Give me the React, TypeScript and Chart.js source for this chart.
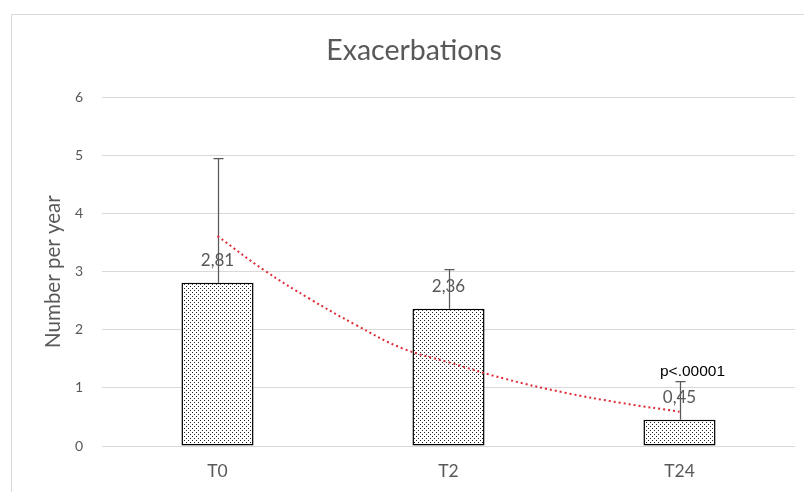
import React, { useEffect, useRef } from "react";
import { Chart, registerables } from "chart.js";

Chart.register(...registerables);

const categories = ["T0", "T2", "T24"];
const means = [2.81, 2.36, 0.45];
const meanLabels = ["2,81", "2,36", "0,45"];
const errorPlus = [2.15, 0.69, 0.66];
const pLabels = ["", "", "p<.00001"];
// exponential trendline (x in category units, 0 = T0)
const trendX = [0, 0.2, 0.4, 0.6, 0.8, 1.0, 1.25, 1.5, 1.75, 2.0];
const trendY = [3.61, 3.03, 2.53, 2.08, 1.68, 1.44, 1.15, 0.92, 0.74, 0.59];
const yMin = 0;
const yMax = 6;
const yStep = 1;

const TEXT = "#595959";
const GRID = "#d9d9d9";

function makePattern(): CanvasPattern | string {
  const c = document.createElement("canvas");
  c.width = 4;
  c.height = 4;
  const g = c.getContext("2d");
  if (!g) return "#fff";
  g.fillStyle = "#ffffff";
  g.fillRect(0, 0, 4, 4);
  g.fillStyle = "#262626";
  g.fillRect(0, 0, 1, 1);
  g.fillRect(2, 2, 1, 1);
  const p = g.createPattern(c, "repeat");
  return p || "#fff";
}

const framePlugin = {
  id: "frame",
  beforeDraw(chart: any) {
    const ctx = chart.ctx;
    ctx.save();
    ctx.fillStyle = "#ffffff";
    ctx.fillRect(0, 0, chart.width, chart.height);
    ctx.strokeStyle = GRID;
    ctx.lineWidth = 1;
    ctx.beginPath();
    ctx.moveTo(11.5, chart.height);
    ctx.lineTo(11.5, 14.5);
    ctx.lineTo(chart.width, 14.5);
    ctx.stroke();
    ctx.restore();
  },
};

const errorBarPlugin = {
  id: "errbars",
  afterDatasetDraw(chart: any, args: any) {
    if (args.index !== 0) return;
    const ctx = chart.ctx;
    const y = chart.scales.y;
    const meta = chart.getDatasetMeta(0);
    ctx.save();
    ctx.strokeStyle = TEXT;
    ctx.lineWidth = 1.25;
    meta.data.forEach((el: any, i: number) => {
      const x = Math.round(el.x) + 0.5;
      const y0 = y.getPixelForValue(means[i]);
      const y1 = Math.round(y.getPixelForValue(means[i] + errorPlus[i])) + 0.5;
      ctx.beginPath();
      ctx.moveTo(x, y0);
      ctx.lineTo(x, y1);
      ctx.moveTo(x - 5, y1);
      ctx.lineTo(x + 5, y1);
      ctx.stroke();
    });
    ctx.restore();
  },
};

const labelPlugin = {
  id: "labels",
  afterDraw(chart: any) {
    const ctx = chart.ctx;
    const y = chart.scales.y;
    const meta = chart.getDatasetMeta(0);
    ctx.save();
    ctx.textAlign = "center";
    ctx.textBaseline = "middle";
    meta.data.forEach((el: any, i: number) => {
      ctx.fillStyle = TEXT;
      ctx.font = "17px Lato";
      ctx.fillText(meanLabels[i], el.x, el.y - 22);
      if (pLabels[i]) {
        ctx.fillStyle = "#000000";
        ctx.font = "15.5px 'Liberation Sans'";
        const yt = y.getPixelForValue(means[i] + errorPlus[i]);
        ctx.fillText(pLabels[i], el.x + 13, yt - 10);
      }
    });
    ctx.restore();
  },
};

export default function App() {
  const ref = useRef<HTMLCanvasElement | null>(null);
  useEffect(() => {
    if (!ref.current) return;
    const pattern = makePattern();
    const chart = new Chart(ref.current, {
      type: "bar",
      data: {
        labels: categories,
        datasets: [
          {
            type: "bar",
            label: "Exacerbations",
            data: means,
            backgroundColor: pattern as any,
            borderColor: "#000000",
            borderWidth: 1.5,
            borderSkipped: false,
            barPercentage: 0.312,
            categoryPercentage: 1,
            grouped: false,
            xAxisID: "x",
            order: 2,
          } as any,
          {
            type: "line",
            label: "trend",
            data: trendX.map((x, i) => ({ x, y: trendY[i] })),
            xAxisID: "xt",
            borderColor: "#e02a35",
            borderWidth: 2,
            borderDash: [2, 3],
            pointRadius: 0,
            tension: 0.4,
            fill: false,
            order: 1,
          } as any,
        ],
      },
      options: {
        animation: false,
        responsive: true,
        maintainAspectRatio: false,
        layout: { padding: { left: 33, right: 9, top: 0, bottom: 0 } },
        plugins: {
          legend: { display: false },
          tooltip: { enabled: false },
          title: {
            display: true,
            text: "Exacerbations",
            color: TEXT,
            font: { family: "Lato", size: 28.5, weight: "normal" },
            padding: { top: 34, bottom: 29 },
          },
        },
        scales: {
          x: {
            type: "category",
            offset: true,
            grid: { display: false, drawTicks: false, offset: true },
            border: { display: false },
            ticks: {
              color: TEXT,
              font: { family: "Lato", size: 17.5 },
              padding: 14.5,
              maxRotation: 0,
            },
            afterFit: (s: any) => {
              s.height = 46;
            },
          },
          xt: {
            type: "linear",
            display: false,
            offset: false,
            min: -0.5,
            max: 2.5,
          },
          y: {
            min: yMin,
            max: yMax,
            ticks: {
              stepSize: yStep,
              color: TEXT,
              font: { family: "Lato", size: 14 },
              padding: 19,
            },
            grid: { color: GRID, lineWidth: 1, drawTicks: false },
            border: { display: false },
            title: {
              display: true,
              text: "Number per year",
              color: TEXT,
              font: { family: "Lato", size: 20.5 },
              padding: { top: 8, bottom: 6 },
            },
            afterFit: (s: any) => {
              s.width = 69;
            },
          },
        },
      },
      plugins: [framePlugin, errorBarPlugin, labelPlugin],
    });
    return () => chart.destroy();
  }, []);
  return (
    <div style={{ position: "fixed", left: 0, top: 0, width: 804, height: 492 }}>
      <canvas ref={ref} />
    </div>
  );
}
